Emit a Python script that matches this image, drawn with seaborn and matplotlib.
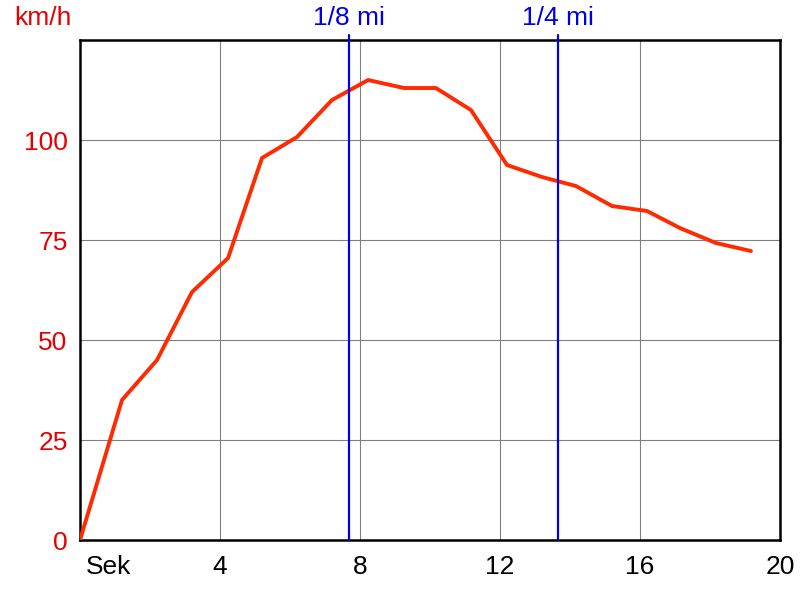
import pandas as pd
import matplotlib
matplotlib.use("Agg")
import matplotlib.pyplot as plt
import seaborn as sns

# speed over time
sek = [0, 1.2, 2.2, 3.2, 4.23, 5.2, 6.2, 7.2, 8.23, 9.26, 10.17, 11.17,
       12.2, 13.2, 14.17, 15.2, 16.2, 17.14, 18.17, 19.17]
kmh = [0, 35, 45, 62, 70.5, 95.5, 100.75, 110, 115, 113, 113, 107.5,
       93.75, 90.75, 88.5, 83.5, 82.25, 78, 74.25, 72.25]

# distance markers
mark_pos = [7.69, 13.66]
mark_labels = ["1/8 mi", "1/4 mi"]

x_ticks = [0, 4, 8, 12, 16, 20]
x_ticklabels = ["", "4", "8", "12", "16", "20"]
y_ticks = [0, 25, 50, 75, 100]

df = pd.DataFrame({"Sek": sek, "km/h": kmh})

sns.set_style("white")
plt.rcParams["font.family"] = ["Liberation Sans", "DejaVu Sans"]
plt.rcParams["text.color"] = "black"

fig = plt.figure(figsize=(8, 6), dpi=100)
ax = fig.add_axes([0.1, 0.1, 0.875, 0.8333])

# grid
for x in x_ticks[1:-1]:
    ax.axvline(x, color="#808080", lw=0.8, zorder=1)
for y in y_ticks[1:]:
    ax.axhline(y, color="#808080", lw=0.8, zorder=1)

sns.lineplot(x="Sek", y="km/h", data=df, color="#ff2a00", lw=2.8, ax=ax, zorder=3)

# quarter-mile markers
for p, lab in zip(mark_pos, mark_labels):
    ax.axvline(p, ymin=0, ymax=1.01, color="#0000e6", lw=1.6, clip_on=False, zorder=4)
    ax.text(p, 1.045, lab, transform=ax.get_xaxis_transform(), ha="center",
            va="center", color="#0000e6", fontsize=19)

ax.set_xlim(0, 20)
ax.set_ylim(0, 125)
ax.set_xticks(x_ticks)
ax.set_xticklabels(x_ticklabels)
ax.set_yticks(y_ticks)
ax.tick_params(axis="x", colors="black", labelsize=19, length=5, width=1.5, pad=6)
ax.tick_params(axis="y", labelcolor="#e60000", color="black", labelsize=19, length=5, width=1.5, pad=4)
for t in ax.get_yticklabels():
    t.set_color("#e60000")

ax.text(0.008, -0.054, "Sek", transform=ax.transAxes, ha="left", va="center",
        fontsize=19, color="black")
ax.text(-0.094, 1.045, "km/h", transform=ax.transAxes, ha="left", va="center",
        color="#e60000", fontsize=19)

ax.set_xlabel("")
ax.set_ylabel("")
for s in ax.spines.values():
    s.set_color("black")
    s.set_linewidth(1.8)
    s.set_visible(True)

fig.savefig("out.png", dpi=100, facecolor="white")
